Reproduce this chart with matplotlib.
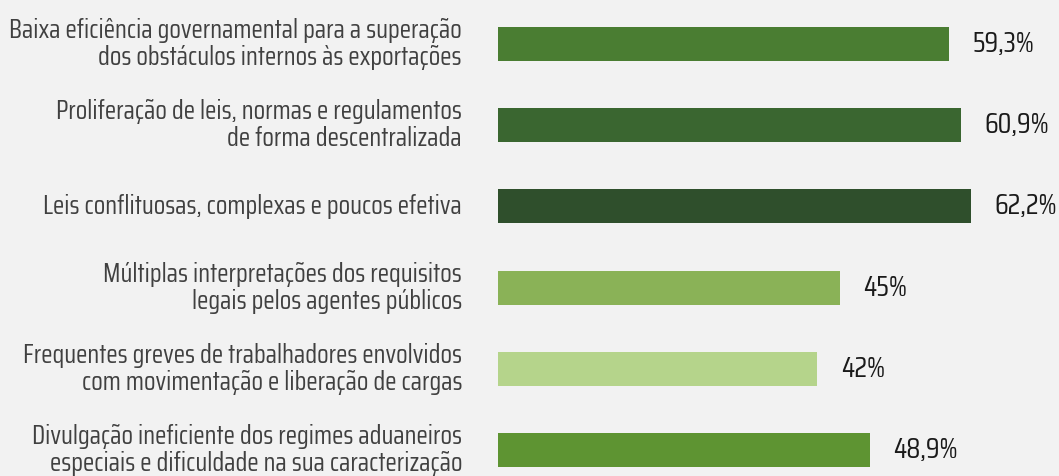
import matplotlib
matplotlib.use("Agg")
import matplotlib.pyplot as plt
from matplotlib import transforms

categories = [
    "Baixa eficiência governamental para a superação\ndos obstáculos internos às exportações",
    "Proliferação de leis, normas e regulamentos\nde forma descentralizada",
    "Leis conflituosas, complexas e poucos efetiva",
    "Múltiplas interpretações dos requisitos\nlegais pelos agentes públicos",
    "Frequentes greves de trabalhadores envolvidos\ncom movimentação e liberação de cargas",
    "Divulgação ineficiente dos regimes aduaneiros\nespeciais e dificuldade na sua caracterização",
]
values = [59.3, 60.9, 62.2, 45, 42, 48.9]
value_labels = ["59,3%", "60,9%", "62,2%", "45%", "42%", "48,9%"]
colors = ["#4a7d32", "#3a6630", "#2f4f2c", "#8ab257", "#b5d48b", "#5e9432"]

plt.rcParams['font.family'] = ['Saira Condensed', 'DejaVu Sans']

W, H = 1059, 476
fig = plt.figure(figsize=(W / 100, H / 100), dpi=100)
fig.patch.set_facecolor("#f2f2f2")
x0 = 498
ax = fig.add_axes([x0 / W, 0, 1 - x0 / W, 1])
ax.set_facecolor("#f2f2f2")
ypos = list(range(len(values)))
ax.barh(ypos, values, height=0.42, color=colors)
ax.set_xlim(0, (W - x0) / 7.6)
ax.set_ylim(5.32, -0.542)
ax.axis("off")

renderer = fig.canvas.get_renderer()

# fit font sizes to the reference text widths
probe = fig.text(0, 0, categories[0].split("\n")[0], fontsize=16)
w = probe.get_window_extent(renderer).width
label_fs = 16 * 452 / w
probe.remove()
probe = fig.text(0, 0, value_labels[0], fontsize=18)
w = probe.get_window_extent(renderer).width
value_fs = 18 * 62 / w
probe.remove()

for y, v, lab in zip(ypos, values, value_labels):
    ax.text(v + 3.1, y, lab, ha="left", va="center", fontsize=value_fs, color="#1a1a1a")

trans = transforms.blended_transform_factory(fig.transFigure, ax.transData)
for y, cat in zip(ypos, categories):
    ax.text(462 / W, y, cat, transform=trans, ha="right", va="center",
            multialignment="right", fontsize=label_fs, color="#404040", linespacing=1.1)

fig.savefig("out.png", dpi=100, facecolor=fig.get_facecolor())
